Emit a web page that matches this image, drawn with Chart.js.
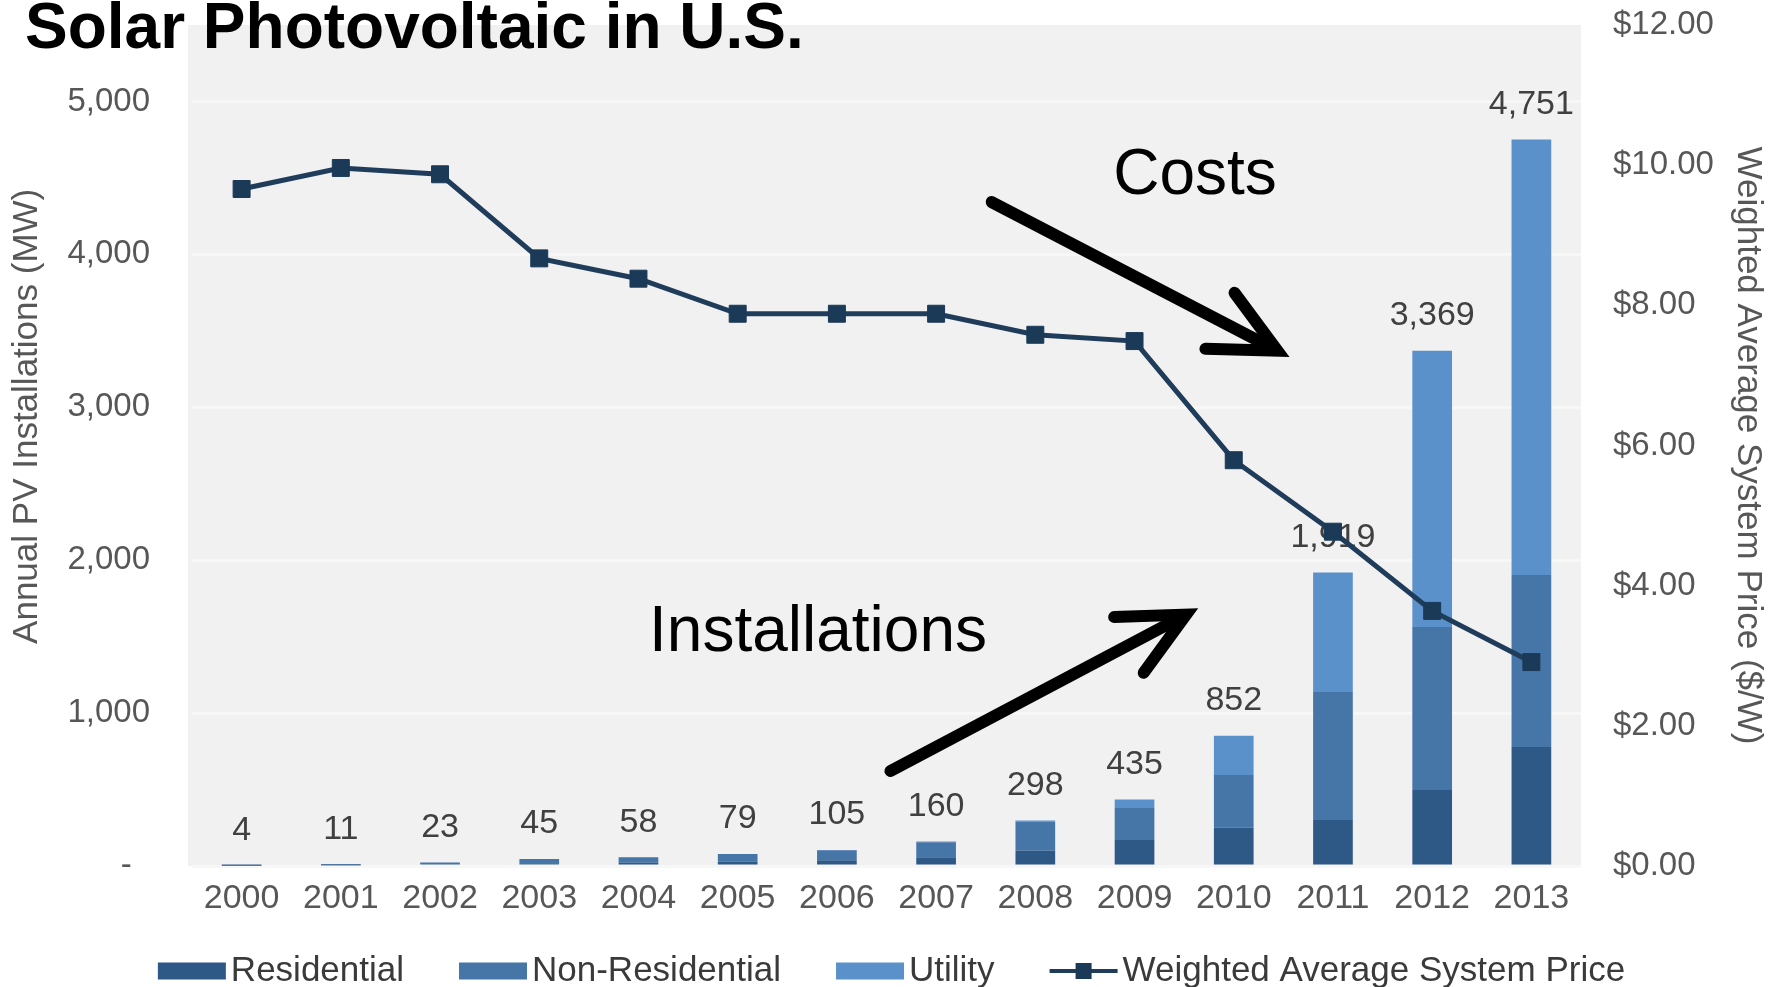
<!DOCTYPE html>
<html>
<head>
<meta charset="utf-8">
<title>Solar Photovoltaic in U.S.</title>
<script src="https://cdn.jsdelivr.net/npm/chart.js@4.4.0/dist/chart.umd.min.js"></script>
<style>
  html, body { margin: 0; padding: 0; background: #fff; }
  #wrap { position: relative; width: 1783px; height: 987px; }
</style>
</head>
<body>
<div id="wrap"><canvas id="pvChart"></canvas></div>
<script>
// values
const years = ['2000', '2001', '2002', '2003', '2004', '2005', '2006', '2007', '2008', '2009', '2010', '2011', '2012', '2013'];
const residential    = [2, 5, 9, 12, 21, 27, 37, 58, 100, 170, 250, 301, 497, 778];
const nonResidential = [2, 6, 14, 33, 37, 51, 66, 97, 190, 209, 345, 837, 1066, 1125];
const utility        = [0, 0, 0, 0, 0, 1, 2, 5, 8, 56, 257, 781, 1806, 2848];
const totals         = [4, 11, 23, 45, 58, 79, 105, 160, 298, 435, 852, 1919, 3369, 4751];
const systemPrice    = [9.66, 9.96, 9.87, 8.67, 8.38, 7.88, 7.88, 7.88, 7.58, 7.49, 5.79, 4.77, 3.64, 2.91];
const mwTicks    = [0, 1000, 2000, 3000, 4000, 5000];
const priceTicks = [0, 2, 4, 6, 8, 10, 12];

// callouts, in data units (category index, MW)
const notes = [
  { text: 'Costs', x: 9.61, y: 4512 },
  { text: 'Installations', x: 5.81, y: 1524 }
];
const arrows = [
  { from: [7.56, 4342], to: [10.44, 3370] },
  { from: [6.54, 621], to: [9.52, 1644] }
];

const FONT = "'Liberation Sans', Arial, sans-serif";
const TICK = '#575757';

const overlay = {
  id: 'overlay',
  beforeDraw(chart) {
    const { ctx, chartArea: a } = chart;
    ctx.save();
    ctx.fillStyle = '#f1f1f1';
    ctx.fillRect(a.left - 4, a.top, a.right - a.left + 4, a.bottom - a.top);
    ctx.restore();
  },
  beforeDatasetDraw(chart, args) {
    if (args.meta.type !== 'line') return;
    // stack totals above the bars, under the price line
    const ctx = chart.ctx;
    const topMeta = chart.getDatasetMeta(2);
    ctx.save();
    ctx.font = `34px ${FONT}`;
    ctx.fillStyle = '#404040';
    ctx.textAlign = 'center';
    ctx.textBaseline = 'middle';
    topMeta.data.forEach((bar, i) => {
      ctx.fillText(totals[i].toLocaleString('en-US'), bar.x, bar.y - 35);
    });
    ctx.restore();
  },
  afterDraw(chart) {
    const { ctx, scales: { x, y } } = chart;

    // title
    ctx.save();
    ctx.font = `bold 64px ${FONT}`;
    ctx.fillStyle = '#000';
    ctx.textAlign = 'left';
    ctx.textBaseline = 'alphabetic';
    ctx.fillText('Solar Photovoltaic in U.S.', 25, 48);
    ctx.restore();

    // callout text
    ctx.save();
    ctx.font = `64px ${FONT}`;
    ctx.fillStyle = '#000';
    ctx.textAlign = 'center';
    ctx.textBaseline = 'middle';
    notes.forEach(n => ctx.fillText(n.text, x.getPixelForValue(n.x), y.getPixelForValue(n.y)));
    ctx.restore();

    // arrows
    ctx.save();
    ctx.strokeStyle = '#000';
    ctx.lineWidth = 12;
    arrows.forEach(a => {
      const x0 = x.getPixelForValue(a.from[0]), y0 = y.getPixelForValue(a.from[1]);
      const x1 = x.getPixelForValue(a.to[0]), y1 = y.getPixelForValue(a.to[1]);
      const ang = Math.atan2(y1 - y0, x1 - x0);
      const head = 72, spread = 26 * Math.PI / 180;
      ctx.lineCap = 'round';
      ctx.beginPath();
      ctx.moveTo(x0, y0);
      ctx.lineTo(x1 - 12 * Math.cos(ang), y1 - 12 * Math.sin(ang));
      ctx.stroke();
      ctx.lineJoin = 'miter';
      ctx.beginPath();
      ctx.moveTo(x1 + head * Math.cos(ang + Math.PI - spread), y1 + head * Math.sin(ang + Math.PI - spread));
      ctx.lineTo(x1, y1);
      ctx.lineTo(x1 + head * Math.cos(ang + Math.PI + spread), y1 + head * Math.sin(ang + Math.PI + spread));
      ctx.stroke();
    });
    ctx.restore();

    // legend
    ctx.save();
    ctx.font = `35px ${FONT}`;
    ctx.textBaseline = 'middle';
    ctx.textAlign = 'left';
    const ds = chart.data.datasets;
    const boxW = 68, boxH = 17, textGap = 5, itemGap = 55, ly = 971;
    const widths = ds.map(d => boxW + textGap + ctx.measureText(d.label).width);
    const total = widths.reduce((s, w) => s + w, 0) + itemGap * (ds.length - 1);
    let lx = chart.width / 2 - total / 2;
    ds.forEach((d, i) => {
      if (d.type === 'line') {
        ctx.strokeStyle = d.borderColor;
        ctx.lineWidth = 4;
        ctx.beginPath();
        ctx.moveTo(lx, ly);
        ctx.lineTo(lx + boxW, ly);
        ctx.stroke();
        ctx.fillStyle = d.pointBackgroundColor;
        ctx.fillRect(lx + boxW / 2 - 8, ly - 8, 16, 16);
      } else {
        ctx.fillStyle = d.backgroundColor;
        ctx.fillRect(lx, ly - boxH / 2, boxW, boxH);
      }
      ctx.fillStyle = '#3a3a3a';
      ctx.fillText(d.label, lx + boxW + textGap, ly);
      lx += widths[i] + itemGap;
    });
    ctx.restore();
  }
};

new Chart(document.getElementById('pvChart'), {
  type: 'bar',
  data: {
    labels: years,
    datasets: [
      { label: 'Residential', data: residential, backgroundColor: '#2E5987', order: 1 },
      { label: 'Non-Residential', data: nonResidential, backgroundColor: '#4675A8', order: 1 },
      { label: 'Utility', data: utility, backgroundColor: '#5B91CB', order: 1 },
      {
        type: 'line',
        label: 'Weighted Average System Price',
        data: systemPrice,
        yAxisID: 'y1',
        borderColor: '#1F3C5A',
        borderWidth: 5,
        pointStyle: 'rect',
        pointRadius: 12,
        pointBackgroundColor: '#1B3A58',
        pointBorderColor: '#1B3A58',
        pointBorderWidth: 1,
        tension: 0,
        order: 0
      }
    ]
  },
  options: {
    responsive: true,
    maintainAspectRatio: false,
    animation: false,
    layout: { padding: { top: 25, bottom: 61, left: 0, right: 0 } },
    datasets: { bar: { categoryPercentage: 0.8, barPercentage: 0.5 } },
    plugins: {
      legend: { display: false },
      tooltip: { enabled: false }
    },
    scales: {
      x: {
        stacked: true,
        grid: { display: false, drawTicks: false },
        border: { display: false },
        ticks: { color: TICK, font: { size: 34, family: FONT }, padding: 12, maxRotation: 0, autoSkip: false },
        afterFit: s => { s.height = 60; s.paddingLeft = 0; s.paddingRight = 0; }
      },
      y: {
        stacked: true,
        position: 'left',
        min: 0,
        max: 5500,
        grid: { color: '#f7f7f7', lineWidth: 3, drawTicks: false },
        border: { display: false },
        afterBuildTicks: s => { s.ticks = mwTicks.map(v => ({ value: v })); },
        ticks: {
          padding: 42,
          color: TICK,
          font: { size: 33, family: FONT },
          callback: v => v === 0 ? '-  ' : v.toLocaleString('en-US')
        },
        title: {
          display: true,
          text: '      Annual PV Installations (MW)',
          color: TICK,
          font: { size: 35, family: FONT },
          padding: { top: 6, bottom: 0 }
        },
        afterFit: s => { s.width = 192; s.paddingTop = 0; s.paddingBottom = 0; }
      },
      y1: {
        position: 'right',
        min: 0,
        max: 12,
        grid: { display: false, drawTicks: false },
        border: { display: false },
        afterBuildTicks: s => { s.ticks = priceTicks.map(v => ({ value: v })); },
        ticks: {
          padding: 32,
          color: TICK,
          font: { size: 33, family: FONT },
          callback: v => '$' + v.toFixed(2)
        },
        title: {
          display: true,
          text: 'Weighted Average System Price ($/W)',
          color: TICK,
          font: { size: 35, family: FONT },
          padding: { top: 14, bottom: 0 }
        },
        afterFit: s => { s.width = 202; s.paddingTop = 0; s.paddingBottom = 0; }
      }
    }
  },
  plugins: [overlay]
});
</script>
</body>
</html>
